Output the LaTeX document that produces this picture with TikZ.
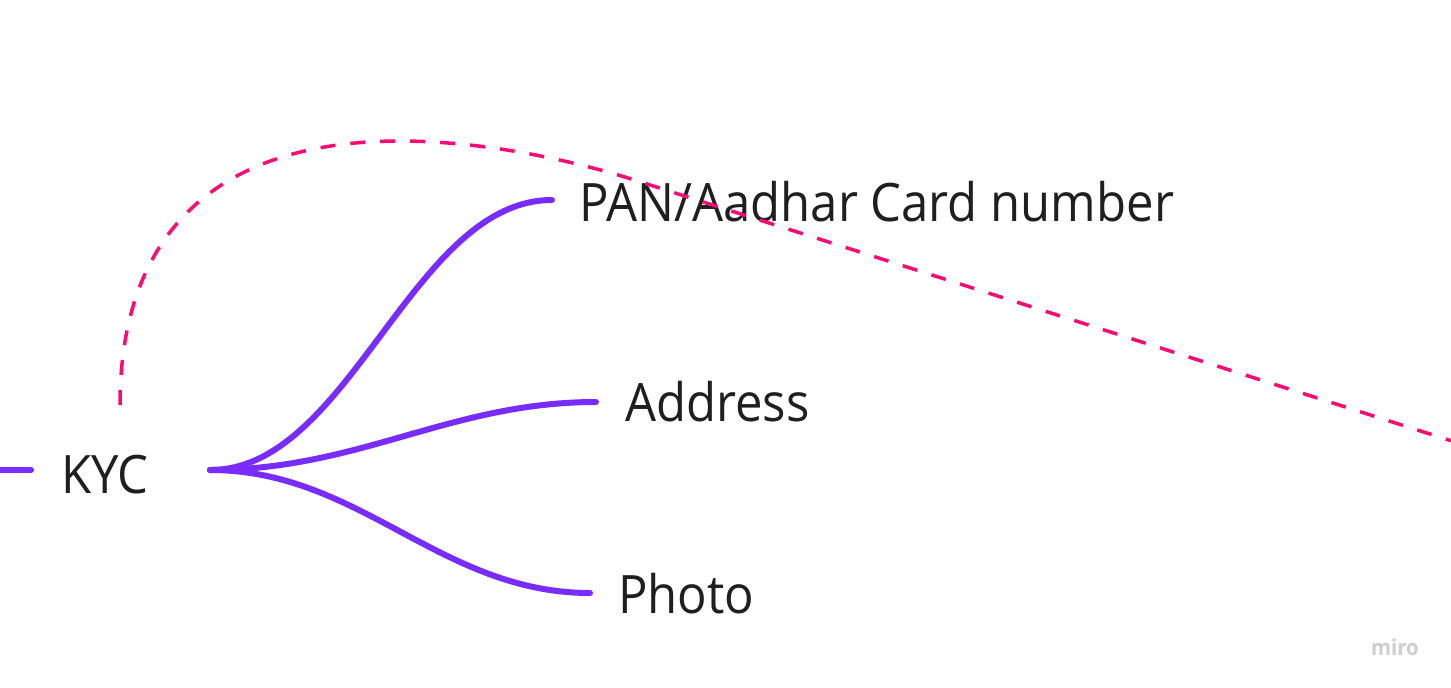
\documentclass[tikz,border=0pt]{standalone}
\usepackage{fontspec}
\usepackage{graphicx}
\setmainfont{Open Sans}
\definecolor{branchviolet}{HTML}{782CFF}
\definecolor{linkpink}{HTML}{FF0A73}
\definecolor{wmgray}{HTML}{CDCDD6}
\newcommand{\narrowtext}[1]{\scalebox{0.925}[1]{#1}}
\tikzset{
  label/.style={inner sep=0pt, anchor=base west, text=black!88, font=\fontsize{53}{64}\selectfont},
  branch/.style={draw=branchviolet, line width=6pt, line cap=round},
  link/.style={draw=linkpink, line width=3.5pt, dash pattern=on 15pt off 15pt},
}
\begin{document}
\begin{tikzpicture}[x=1pt,y=-1pt]
\useasboundingbox (0,0) rectangle (1451,688);
\fill[white] (0,0) rectangle (1451,688);
% text nodes
\node[label] (kyc) at (61,493) {\narrowtext{KYC}};
\node[label] (pan) at (579,221) {\narrowtext{PAN/Aadhar Card number}};
\node[label] (addr) at (625,421) {\narrowtext{Address}};
\node[label] (photo) at (618,613) {\narrowtext{Photo}};
\node[inner sep=0pt, anchor=base west, text=wmgray, font=\fontsize{22}{26}\selectfont\bfseries] (miro) at (1371,655) {\narrowtext{miro}};
% connector anchors
\coordinate (leftend) at (0,470);
\coordinate (kycin) at (31,470);
\coordinate (kycout) at (210,470);
\coordinate (panin) at (552,200);
\coordinate (addrin) at (596,402);
\coordinate (photoin) at (590,593);
\coordinate (linkstart) at (120,405);
\coordinate (linkpeak) at (400,141);
\coordinate (linkbend) at (650,185);
\coordinate (linkend) at (1480,450);
% branches
\draw[branch] (leftend) -- (kycin);
\draw[branch] (kycout) .. controls (350,470) and (412,200) .. (panin);
\draw[branch] (kycout) .. controls (360,470) and (450,402) .. (addrin);
\draw[branch] (kycout) .. controls (360,470) and (440,593) .. (photoin);
% dashed link
\draw[link] (linkstart) .. controls (120,230) and (220,141) .. (linkpeak)
  .. controls (470,141) and (560,155) .. (linkbend) -- (linkend);
\end{tikzpicture}
\end{document}
